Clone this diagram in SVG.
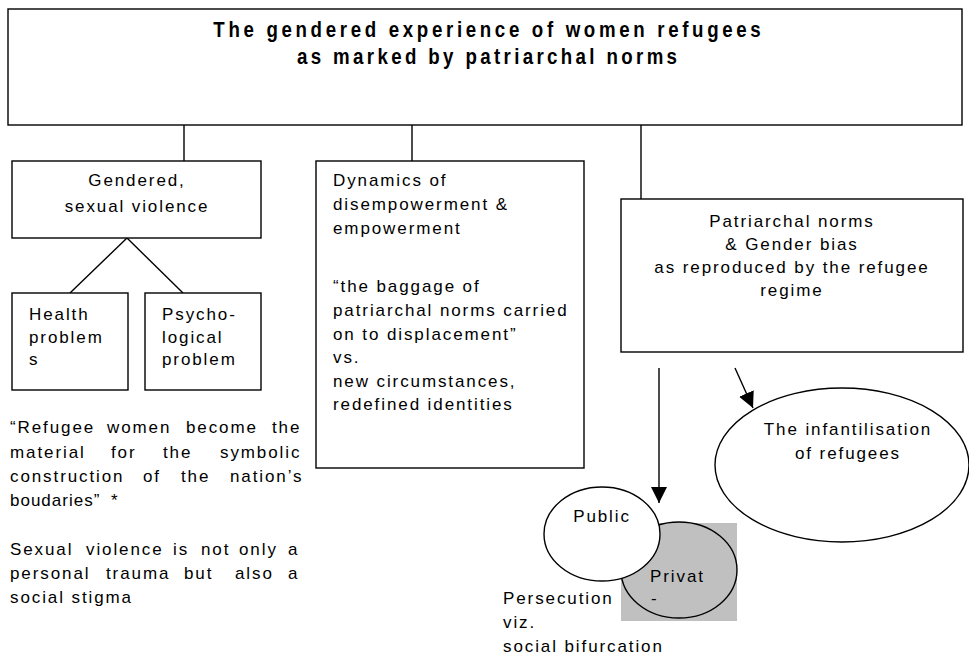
<svg xmlns="http://www.w3.org/2000/svg" width="969" height="656" viewBox="0 0 969 656">
<style>
.box{fill:#fff;stroke:#000;stroke-width:1.4}
.ln{stroke:#000;stroke-width:1.4;fill:none}
.t{font-family:"Liberation Sans",Arial,sans-serif;font-size:17px;letter-spacing:1.9px;fill:#000}
.c{text-anchor:middle}
.title{font-family:"Liberation Sans",Arial,sans-serif;font-size:22px;font-weight:bold;fill:#000;text-anchor:middle}
</style>
<defs>
<marker id="ah" markerUnits="userSpaceOnUse" markerWidth="16" markerHeight="16" refX="15" refY="7.5" orient="auto" viewBox="0 0 15 15">
<path d="M0,0 L15,7.5 L0,15 z" fill="#000"/>
</marker>
</defs>
<rect width="969" height="656" fill="#fff"/>

<g id="connectors">
<line class="ln" x1="184" y1="125" x2="184" y2="161"/>
<line class="ln" x1="412" y1="125" x2="412" y2="161"/>
<line class="ln" x1="641" y1="125" x2="641" y2="199"/>
<line class="ln" x1="127" y1="238" x2="70" y2="293"/>
<line class="ln" x1="127" y1="238" x2="183" y2="293"/>
<line class="ln" x1="659" y1="368" x2="659" y2="503" marker-end="url(#ah)"/>
<line class="ln" x1="735" y1="368" x2="753" y2="408" marker-end="url(#ah)"/>
</g>

<g id="title">
<rect class="box" x="8" y="9" width="954" height="116"/>
<g transform="scale(0.85,1)">
<text class="title" x="573" y="37" textLength="644" lengthAdjust="spacing">The gendered experience of women refugees</text>
<text class="title" x="573" y="64" textLength="447" lengthAdjust="spacing">as marked by patriarchal norms</text>
</g>
</g>

<g id="gendered">
<rect class="box" x="12" y="161" width="249" height="77"/>
<text class="t c" x="137" y="186">Gendered,</text>
<text class="t c" x="137" y="212">sexual violence</text>
</g>

<g id="health">
<rect class="box" x="12" y="293" width="116" height="97"/>
<text class="t" x="29" y="320">Health</text>
<text class="t" x="29" y="343">problem</text>
<text class="t" x="29" y="365">s</text>
</g>

<g id="psycho">
<rect class="box" x="145" y="293" width="116" height="97"/>
<text class="t" x="162" y="320">Psycho-</text>
<text class="t" x="162" y="343">logical</text>
<text class="t" x="162" y="365">problem</text>
</g>

<g id="quote">
<text class="t" y="433"><tspan x="10">“Refugee</tspan><tspan x="107">women</tspan><tspan x="186">become</tspan><tspan x="272">the</tspan></text>
<text class="t" y="458"><tspan x="10">material</tspan><tspan x="111">for</tspan><tspan x="163">the</tspan><tspan x="220">symbolic</tspan></text>
<text class="t" y="482"><tspan x="10">construction</tspan><tspan x="143">of</tspan><tspan x="181">the</tspan><tspan x="230">nation’s</tspan></text>
<text class="t" y="506"><tspan x="10" style="letter-spacing:1px">boudaries”</tspan><tspan x="111">*</tspan></text>
<text class="t" y="555"><tspan x="10">Sexual</tspan><tspan x="86">violence</tspan><tspan x="173">is</tspan><tspan x="201">not</tspan><tspan x="239">only</tspan><tspan x="288">a</tspan></text>
<text class="t" y="579"><tspan x="10">personal</tspan><tspan x="106">trauma</tspan><tspan x="184">but</tspan><tspan x="235">also</tspan><tspan x="288">a</tspan></text>
<text class="t" x="10" y="603">social stigma</text>
</g>

<g id="dynamics">
<rect class="box" x="316" y="161" width="268" height="307"/>
<text class="t" x="333" y="186">Dynamics of</text>
<text class="t" x="333" y="210">disempowerment &amp;</text>
<text class="t" x="333" y="234">empowerment</text>
<text class="t" x="333" y="292">“the baggage of</text>
<text class="t" x="333" y="316">patriarchal norms carried</text>
<text class="t" x="333" y="340">on to displacement”</text>
<text class="t" x="333" y="363">vs.</text>
<text class="t" x="333" y="387">new circumstances,</text>
<text class="t" x="333" y="410">redefined identities</text>
</g>

<g id="patriarchal">
<rect class="box" x="621" y="199" width="342" height="153"/>
<text class="t c" x="792" y="227">Patriarchal norms</text>
<text class="t c" x="792" y="250">&amp; Gender bias</text>
<text class="t c" x="792" y="273">as reproduced by the refugee</text>
<text class="t c" x="792" y="296">regime</text>
</g>

<g id="infantilisation">
<ellipse class="box" cx="842" cy="465" rx="127" ry="77"/>
<text class="t c" x="848" y="435">The infantilisation</text>
<text class="t c" x="848" y="459">of refugees</text>
</g>

<g id="private">
<rect x="621" y="523" width="116" height="98" fill="#c0c0c0"/>
<ellipse cx="679" cy="570" rx="58" ry="48" fill="#c0c0c0" stroke="#000" stroke-width="1.4"/>
<text class="t" x="650" y="582">Privat</text>
<text class="t" x="651" y="604">-</text>
</g>

<g id="public">
<ellipse class="box" cx="602" cy="534" rx="58" ry="47"/>
<text class="t c" x="602" y="522">Public</text>
</g>

<g id="persecution">
<text class="t" x="503" y="604">Persecution</text>
<text class="t" x="503" y="628">viz.</text>
<text class="t" x="503" y="652">social bifurcation</text>
</g>
</svg>
